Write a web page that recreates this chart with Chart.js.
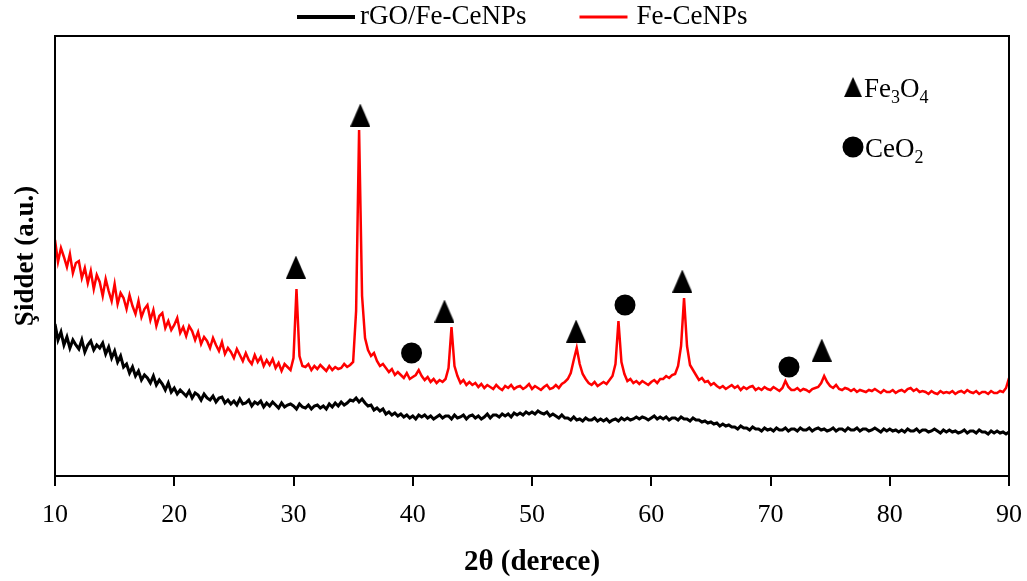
<!DOCTYPE html>
<html>
<head>
<meta charset="utf-8">
<script src="https://cdn.jsdelivr.net/npm/chart.js@4.4.0/dist/chart.umd.min.js"></script>
<style>
  html, body { margin: 0; padding: 0; background: #fff; }
</style>
</head>
<body>
<canvas id="xrdChart" width="1027" height="581"></canvas>
<script>
// scan: 10 to 90 degrees, 0.25 degree step
const scanStart = 10;
const scanStep = 0.25;

// Fe-CeNPs (red), one row per degree: x.00, x.25, x.50, x.75
const redValues = [
  236, 214, 228, 219,  // 10
  209, 222, 203, 213,  // 11
  215, 198, 208, 193,  // 12
  205, 187, 201, 194,  // 13
  180, 197, 185, 175,  // 14
  192, 172, 183, 178,  // 15
  167, 181, 170, 162,  // 16
  175, 159, 167, 171,  // 17
  156, 166, 150, 160,  // 18
  163, 148, 155, 146,  // 19
  151, 158, 143, 149,  // 20
  140, 150, 145, 136,  // 21
  144, 132, 139, 135,  // 22
  128, 138, 131, 125,  // 23
  134, 122, 128, 124,  // 24
  118, 127, 121, 115,  // 25
  123, 116, 112, 121,  // 26
  114, 119, 110, 116,  // 27
  111, 117, 108, 113,  // 28
  105, 112, 109, 106,  // 29
  118, 187, 120, 110,  // 30
  109, 112, 106, 110,  // 31
  107, 111, 108, 105,  // 32
  110, 106, 109, 107,  // 33
  108, 112, 109, 111,  // 34
  114, 165, 346, 180,  // 35
  138, 126, 120, 123,  // 36
  115, 110, 112, 108,  // 37
  104, 107, 101, 104,  // 38
  101,  98, 103,  97,  // 39
   99, 101, 106, 100,  // 40
   96,  99,  94,  97,  // 41
   93,  96,  94,  97,  // 42
  108, 149, 110, 100,  // 43
   93,  96,  91,  94,  // 44
   91,  93,  89,  92,  // 45
   88,  91,  89,  87,  // 46
   91,  88,  86,  90,  // 47
   88,  91,  87,  89,  // 48
   90,  87,  89,  92,  // 49
   87,  90,  88,  86,  // 50
   89,  91,  87,  88,  // 51
   91,  88,  92,  94,  // 52
   97, 103, 116, 128,  // 53
  112, 102,  97,  93,  // 54
   91,  94,  90,  92,  // 55
   94,  92,  96, 100,  // 56
  112, 155, 114, 102,  // 57
   95,  97,  93,  95,  // 58
   92,  95,  93,  91,  // 59
   94,  96,  93,  97,  // 60
   97, 100,  98, 101,  // 61
  102, 110, 130, 178,  // 62
  130, 111, 106, 101,  // 63
   96,  98,  94,  95,  // 64
   91,  93,  90,  88,  // 65
   90,  87,  89,  91,  // 66
   88,  90,  86,  89,  // 67
   87,  89,  90,  86,  // 68
   88,  86,  89,  87,  // 69
   86,  89,  87,  85,  // 70
   88,  95,  89,  86,  // 71
   86,  88,  85,  87,  // 72
   86,  84,  87,  88,  // 73
   89,  93, 100,  94,  // 74
   90,  88,  91,  87,  // 75
   86,  88,  87,  85,  // 76
   87,  84,  86,  85,  // 77
   84,  86,  85,  87,  // 78
   85,  83,  86,  84,  // 79
   84,  86,  83,  85,  // 80
   86,  84,  87,  88,  // 81
   85,  87,  84,  85,  // 82
   84,  82,  85,  83,  // 83
   82,  85,  83,  84,  // 84
   83,  85,  82,  84,  // 85
   85,  83,  86,  84,  // 86
   83,  85,  82,  84,  // 87
   84,  82,  85,  83,  // 88
   83,  85,  84,  88,  // 89
   98                  // 90
];

// rGO/Fe-CeNPs (black)
const blackValues = [
  152, 136, 144, 131,  // 10
  139, 128, 136, 131,  // 11
  127, 136, 124, 131,  // 12
  135, 126, 131, 128,  // 13
  133, 122, 129, 118,  // 14
  125, 114, 120, 109,  // 15
  112, 103, 109, 100,  // 16
  105,  96, 101,  98,  // 17
   93, 100,  91,  96,  // 18
   92,  86,  93,  84,  // 19
   88,  82,  86,  83,  // 20
   80,  85,  78,  83,  // 21
   81,  76,  82,  78,  // 22
   76,  80,  74,  78,  // 23
   79,  73,  76,  72,  // 24
   75,  71,  77,  72,  // 25
   73,  76,  70,  74,  // 26
   72,  75,  69,  73,  // 27
   70,  74,  71,  68,  // 28
   73,  69,  71,  72,  // 29
   70,  67,  72,  69,  // 30
   68,  71,  67,  70,  // 31
   71,  68,  70,  67,  // 32
   72,  69,  73,  70,  // 33
   74,  71,  73,  76,  // 34
   75,  78,  74,  77,  // 35
   73,  70,  71,  66,  // 36
   68,  65,  67,  62,  // 37
   64,  61,  63,  60,  // 38
   62,  59,  61,  58,  // 39
   60,  57,  61,  59,  // 40
   61,  58,  60,  57,  // 41
   59,  61,  58,  60,  // 42
   60,  57,  61,  58,  // 43
   59,  61,  57,  60,  // 44
   61,  58,  60,  57,  // 45
   59,  62,  58,  61,  // 46
   61,  59,  62,  60,  // 47
   62,  59,  63,  61,  // 48
   63,  61,  64,  62,  // 49
   64,  62,  65,  63,  // 50
   62,  64,  60,  62,  // 51
   60,  58,  61,  58,  // 52
   58,  56,  59,  56,  // 53
   57,  55,  58,  56,  // 54
   56,  58,  55,  57,  // 55
   55,  57,  54,  56,  // 56
   57,  55,  58,  56,  // 57
   58,  56,  57,  59,  // 58
   57,  59,  58,  56,  // 59
   58,  60,  57,  59,  // 60
   57,  59,  56,  58,  // 61
   58,  56,  59,  57,  // 62
   57,  55,  58,  56,  // 63
   56,  54,  55,  53,  // 64
   54,  52,  53,  50,  // 65
   52,  50,  51,  49,  // 66
   49,  47,  50,  48,  // 67
   48,  46,  49,  47,  // 68
   47,  45,  48,  46,  // 69
   47,  45,  48,  46,  // 70
   46,  48,  45,  47,  // 71
   47,  45,  48,  46,  // 72
   46,  48,  45,  47,  // 73
   48,  46,  47,  45,  // 74
   46,  48,  45,  47,  // 75
   47,  45,  48,  46,  // 76
   46,  48,  45,  47,  // 77
   47,  45,  46,  48,  // 78
   46,  44,  47,  45,  // 79
   47,  45,  46,  44,  // 80
   46,  44,  47,  45,  // 81
   45,  47,  44,  46,  // 82
   46,  44,  45,  47,  // 83
   45,  43,  46,  44,  // 84
   46,  44,  45,  43,  // 85
   44,  46,  43,  45,  // 86
   45,  43,  46,  44,  // 87
   44,  42,  45,  43,  // 88
   45,  43,  44,  42,  // 89
   44                  // 90
];

// phase markers above the peaks
const fe3o4Angles = [30.2, 35.6, 42.66, 53.7, 62.6, 74.3];
const fe3o4Marks = [209, 361, 165, 145, 195, 126];
const ceo2Angles = [39.9, 57.8, 71.55];
const ceo2Marks = [123, 171, 109];

const xTicks = [10, 20, 30, 40, 50, 60, 70, 80, 90];

const serif = "'Liberation Serif', 'Times New Roman', serif";

function toPoints(values) {
  return values.map((v, i) => ({ x: scanStart + i * scanStep, y: v }));
}

function pairPoints(xs, ys) {
  return xs.map((x, i) => ({ x: x, y: ys[i] }));
}

// tall triangle used as point style
function triangleImage(w, h) {
  const c = document.createElement('canvas');
  c.width = w;
  c.height = h;
  const g = c.getContext('2d');
  g.fillStyle = '#000';
  g.beginPath();
  g.moveTo(w / 2, 0);
  g.lineTo(w, h);
  g.lineTo(0, h);
  g.closePath();
  g.fill();
  return c;
}
const triImg = triangleImage(20, 23);

const framePlugin = {
  id: 'frame',
  afterDatasetsDraw(chart) {
    const { ctx, chartArea: a } = chart;
    ctx.save();
    ctx.strokeStyle = '#000';
    ctx.lineWidth = 2;
    ctx.strokeRect(a.left, a.top, a.right - a.left, a.bottom - a.top);
    ctx.restore();
  }
};

// series legend above the plot
const lineLegend = {
  id: 'lineLegend',
  afterDraw(chart) {
    const { ctx } = chart;
    const sets = chart.data.datasets.slice(0, 2);
    const thick = [4, 3];
    let x = 297;
    const y = 17;
    ctx.save();
    ctx.font = '27px ' + serif;
    ctx.textBaseline = 'middle';
    ctx.fillStyle = '#000';
    sets.forEach((ds, i) => {
      ctx.strokeStyle = ds.borderColor;
      ctx.lineWidth = thick[i];
      ctx.beginPath();
      ctx.moveTo(x, y);
      ctx.lineTo(x + (i === 0 ? 58 : 48), y);
      ctx.stroke();
      x += (i === 0 ? 63 : 57);
      ctx.fillText(ds.label, x, y);
      x += ctx.measureText(ds.label).width + 53;
    });
    ctx.restore();
  }
};

// phase key, top right
const keyPlugin = {
  id: 'phaseKey',
  afterDraw(chart) {
    const { ctx, chartArea: a } = chart;
    const x0 = a.right - 156;
    const y0 = a.top + 51;
    ctx.save();
    ctx.fillStyle = '#000';
    ctx.drawImage(triImg, x0 - 9, y0 - 10, 18, 20);
    ctx.beginPath();
    ctx.arc(x0, y0 + 60, 10.5, 0, Math.PI * 2);
    ctx.fill();

    ctx.textBaseline = 'alphabetic';
    function chem(parts, x, y) {
      parts.forEach(p => {
        ctx.font = (p.sub ? '18px ' : '27px ') + serif;
        ctx.fillText(p.t, x, p.sub ? y + 6 : y);
        x += ctx.measureText(p.t).width;
      });
    }
    chem([{ t: 'Fe' }, { t: '3', sub: true }, { t: 'O' }, { t: '4', sub: true }], x0 + 11, y0 + 10);
    chem([{ t: 'CeO' }, { t: '2', sub: true }], x0 + 12, y0 + 70);
    ctx.restore();
  }
};

const ctx = document.getElementById('xrdChart').getContext('2d');
const xrdChart = new Chart(ctx, {
  type: 'line',
  data: {
    datasets: [{
      label: 'rGO/Fe-CeNPs',
      data: toPoints(blackValues),
      borderColor: '#000',
      backgroundColor: '#000',
      borderWidth: 3,
      pointRadius: 0,
      tension: 0
    }, {
      label: 'Fe-CeNPs',
      data: toPoints(redValues),
      borderColor: '#ff0000',
      backgroundColor: '#ff0000',
      borderWidth: 2.5,
      pointRadius: 0,
      tension: 0
    }, {
      label: 'Fe3O4',
      type: 'scatter',
      data: pairPoints(fe3o4Angles, fe3o4Marks),
      pointStyle: triImg,
      pointRadius: 10,
      showLine: false
    }, {
      label: 'CeO2',
      type: 'scatter',
      data: pairPoints(ceo2Angles, ceo2Marks),
      pointStyle: 'circle',
      pointRadius: 10.5,
      backgroundColor: '#000',
      borderColor: '#000',
      borderWidth: 0,
      showLine: false
    }]
  },
  options: {
    responsive: false,
    animation: false,
    devicePixelRatio: 1,
    layout: { padding: { top: 36, left: 0, right: 18, bottom: 0 } },
    plugins: {
      tooltip: { enabled: false },
      legend: { display: false }
    },
    scales: {
      x: {
        type: 'linear',
        min: 10,
        max: 90,
        afterBuildTicks: s => { s.ticks = xTicks.map(v => ({ value: v })); },
        afterFit: s => {
          s.height = 105;
          s.paddingLeft = 0;
          s.paddingRight = 0;
        },
        ticks: {
          color: '#000',
          padding: 14,
          maxRotation: 0,
          autoSkip: false,
          font: { family: serif, size: 26 }
        },
        grid: {
          display: true,
          drawOnChartArea: false,
          drawTicks: true,
          tickLength: 10,
          color: '#000',
          lineWidth: 2
        },
        border: { display: true, color: '#000', width: 2 },
        title: {
          display: true,
          text: '2θ (derece)',
          color: '#000',
          font: { family: serif, size: 29, weight: 'bold' },
          padding: { top: 0, bottom: 1 }
        }
      },
      y: {
        type: 'linear',
        min: 0,
        max: 440,
        afterFit: s => { s.width = 55; },
        ticks: { display: false },
        grid: { display: false },
        border: { display: true, color: '#000', width: 2 },
        title: {
          display: true,
          text: 'Şiddet (a.u.)',
          color: '#000',
          font: { family: serif, size: 27, weight: 'bold' },
          padding: { top: 10, bottom: 0 }
        }
      }
    }
  },
  plugins: [framePlugin, lineLegend, keyPlugin]
});
</script>
</body>
</html>
